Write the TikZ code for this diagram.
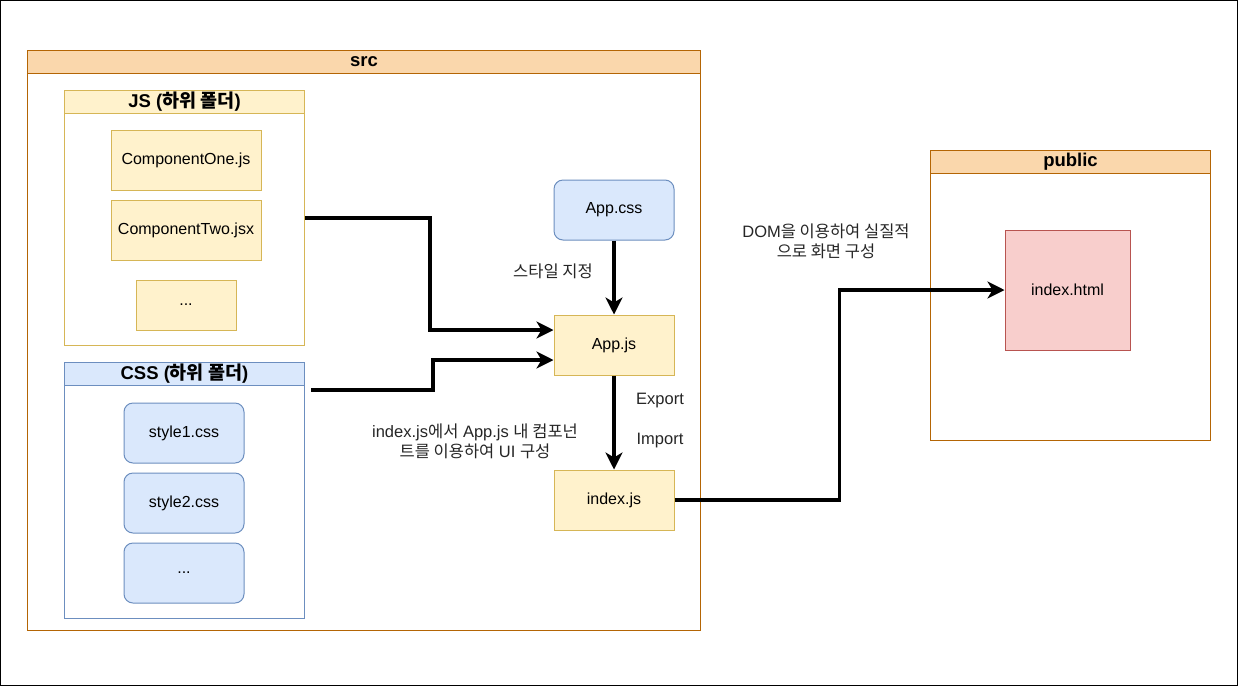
\documentclass[tikz,border=0pt]{standalone}
\usepackage{fontspec}
\setmainfont{Liberation Sans}
\newfontfamily\kr{Noto Sans CJK KR}
\usetikzlibrary{arrows.meta}

\definecolor{orangeFill}{HTML}{FAD7AC}
\definecolor{orangeLine}{HTML}{B46504}
\definecolor{yellowFill}{HTML}{FFF2CC}
\definecolor{yellowLine}{HTML}{D6B656}
\definecolor{blueFill}{HTML}{DAE8FC}
\definecolor{blueLine}{HTML}{6C8EBF}
\definecolor{redFill}{HTML}{F8CECC}
\definecolor{redLine}{HTML}{B85450}

\begin{document}
\begin{tikzpicture}[
            x=1pt, y=-1pt, % 1 px = 1 pt
            every node/.style={
                font=\fontsize{16}{20}\selectfont, % 글자 크기
                inner sep=0, % 내부 여백 0
                align=center
            },
            box/.style={draw, line width=1pt, minimum width=#1}, % 기본 상자
            folder/.style={box=#1, anchor=north west}, % 폴더 본체
            headfont/.style={font=\fontsize{18.5}{22}\selectfont\bfseries}, % 제목 글자
            orangeBody/.style={folder=#1, draw=orangeLine, fill=white},
            orangeHead/.style={folder=#1, draw=orangeLine, fill=orangeFill, minimum height=23pt, headfont},
            yellowBody/.style={folder=#1, draw=yellowLine, fill=white},
            yellowHead/.style={folder=#1, draw=yellowLine, fill=yellowFill, minimum height=23pt, headfont},
            blueBody/.style={folder=#1, draw=blueLine, fill=white},
            blueHead/.style={folder=#1, draw=blueLine, fill=blueFill, minimum height=23pt, headfont},
            jsfile/.style={box=#1, draw=yellowLine, fill=yellowFill, minimum height=60pt}, % 노란 파일
            cssfile/.style={box=120pt, draw=blueLine, fill=blueFill, minimum height=60pt, rounded corners=9pt}, % 파란 파일
            htmlfile/.style={box=125pt, draw=redLine, fill=redFill, minimum height=120pt}, % 빨간 파일
            flow/.style={line width=3.3pt, -{Stealth[length=17pt, width=17pt, inset=5pt]}}, % 굵은 화살표
            note/.style={text=black!85, font=\fontsize{16.5}{20}\selectfont} % 설명 글
        ]

        % 바깥 테두리
        \useasboundingbox (0,0) rectangle (1238,686);
        \draw[line width=1pt] (0.5,0.5) rectangle (1237.5,685.5);

        % src 폴더
        \node[orangeBody=673pt, minimum height=580pt] (src) at (27,50) {};
        \node[orangeHead=673pt] (srcT) at (27,50) {src};

        % JS 하위 폴더
        \node[yellowBody=240pt, minimum height=255pt] (js) at (64,90) {};
        \node[yellowHead=240pt] (jsT) at (64,90) {JS ({\kr 하위 폴더})};
        \node[jsfile=150pt] (one) at (186,160) {ComponentOne.js};
        \node[jsfile=150pt] (two) at (186,230) {ComponentTwo.jsx};
        \node[jsfile=100pt, minimum height=50pt] (jsmore) at (186,305) {...};

        % CSS 하위 폴더
        \node[blueBody=240pt, minimum height=256pt] (css) at (64,362) {};
        \node[blueHead=240pt] (cssT) at (64,362) {CSS ({\kr 하위 폴더})};
        \node[cssfile] (style1) at (184,433) {style1.css};
        \node[cssfile] (style2) at (184,503) {style2.css};
        \node[cssfile] (cssmore) at (184,573) {...};

        % App 파일들
        \node[cssfile] (appcss) at (614,210) {App.css};
        \node[jsfile=120pt] (appjs) at (614,345) {App.js};
        \node[jsfile=120pt] (indexjs) at (614,500) {index.js};

        % public 폴더
        \node[orangeBody=280pt, minimum height=290pt] (pub) at (930,150) {};
        \node[orangeHead=280pt] (pubT) at (930,150) {public};
        \node[htmlfile] (html) at (1067.5,290) {index.html};

        % 화살표
        \coordinate (cssout) at (311,390);
        \draw[flow] (js.east) -- ++(125,0) |- ([yshift=15pt]appjs.west);
        \draw[flow] (cssout) -- ++(122,0) |- ([yshift=-15pt]appjs.west);
        \draw[flow] (appcss.south) -- (appjs.north);
        \draw[flow] (appjs.south) -- (indexjs.north);
        \draw[flow] (indexjs.east) -- ++(165,0) |- (html.west);

        % 설명 글
        \node[note] (style) at (553,271) {\kr 스타일 지정};
        \node[note] (export) at (660,401) {Export};
        \node[note] (import) at (660,441) {Import};
        \node[note] (ui) at (475,441) {index.js{\kr 에서} App.js {\kr 내 컴포넌}\\{\kr 트를 이용하여} UI {\kr 구성}};
        \node[note] (dom) at (826,241) {DOM{\kr 을 이용하여 실질적}\\{\kr 으로 화면 구성}};
\end{tikzpicture}
\end{document}
